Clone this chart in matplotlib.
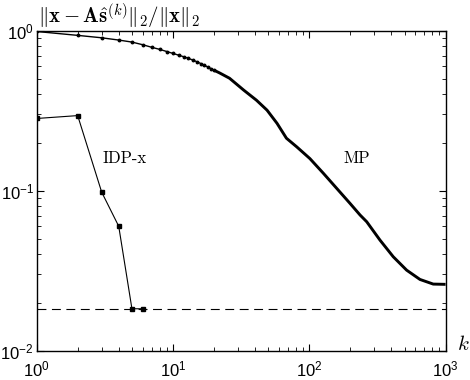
import numpy as np
import matplotlib
matplotlib.use("Agg")
import matplotlib.pyplot as plt
from matplotlib.ticker import LogLocator, NullFormatter

plt.rcParams['font.family'] = ['Liberation Sans', 'DejaVu Sans']
plt.rcParams['font.size'] = 10

# MP residual, one dot per iteration where they can still be told apart
mp_k_dots = [1, 2, 3, 4, 5, 6, 7, 8, 9, 10, 11, 12, 13, 14, 15, 16, 17, 18, 19, 20]
mp_dots = [0.99, 0.936, 0.904, 0.875, 0.850, 0.818, 0.788, 0.765, 0.742, 0.722,
           0.704, 0.688, 0.672, 0.656, 0.640, 0.624, 0.609, 0.594, 0.580, 0.567]
# MP residual further on (dots merge into a thick line)
mp_k_tail = [20, 22, 26, 33, 41, 49, 58, 68, 81, 101, 127, 159, 199, 236, 264,
             330, 413, 518, 649, 812, 1000]
mp_tail = [0.567, 0.545, 0.505, 0.426, 0.368, 0.319, 0.264, 0.213, 0.188, 0.159,
           0.1285, 0.1035, 0.0834, 0.0705, 0.064, 0.0492, 0.0387, 0.0319, 0.0279,
           0.0261, 0.026]

idp_k = [1, 2, 3, 4, 5, 6]
idp_res = [0.283, 0.295, 0.098, 0.060, 0.0183, 0.0183]
floor_level = 0.0183

fig = plt.figure(figsize=(4.7, 3.8), dpi=100)
ax = fig.add_axes([0.078, 0.077, 0.870, 0.842])

ax.axhline(floor_level, color='black', lw=0.8, dashes=(8, 5))
ax.plot(mp_k_dots, mp_dots, color='black', lw=1.0, marker='o', ms=1.8)
ax.plot(mp_k_tail, mp_tail, color='black', lw=2.1, solid_capstyle='butt')
ax.plot(idp_k, idp_res, color='black', lw=0.8, marker='s', ms=3)

ax.set_xscale('log')
ax.set_yscale('log')
ax.set_xlim(1, 1000)
ax.set_ylim(0.01, 1)

ax.xaxis.set_minor_locator(LogLocator(base=10, subs=np.arange(2, 10)))
ax.yaxis.set_minor_locator(LogLocator(base=10, subs=np.arange(2, 10)))
ax.xaxis.set_minor_formatter(NullFormatter())
ax.yaxis.set_minor_formatter(NullFormatter())
ax.tick_params(which='both', direction='in', top=True, right=True, labelsize=12)
ax.tick_params(which='major', length=5, width=0.8)
ax.tick_params(which='minor', length=3, width=0.6)
ax.tick_params(axis='x', pad=6)
ax.tick_params(axis='y', pad=2)
for s in ax.spines.values():
    s.set_linewidth(1.0)

ax.text(4.45, 0.16, 'IDP-x', fontfamily='cmr10', fontsize=12, ha='center', va='center')
ax.text(224, 0.16, 'MP', fontfamily='cmr10', fontsize=12, ha='center', va='center')

fig.text(38 / 470, 1 - 16 / 380,
         r'$\|\mathbf{x}-\mathbf{A}\hat{\mathbf{s}}^{(k)}\|_2/\|\mathbf{x}\|_2$',
         math_fontfamily='cm', fontsize=15, ha='left', va='center')
fig.text(463 / 470, 1 - 345 / 380, r'$k$', math_fontfamily='cm', fontsize=15,
         ha='center', va='center')

fig.savefig('out.png', dpi=100)
